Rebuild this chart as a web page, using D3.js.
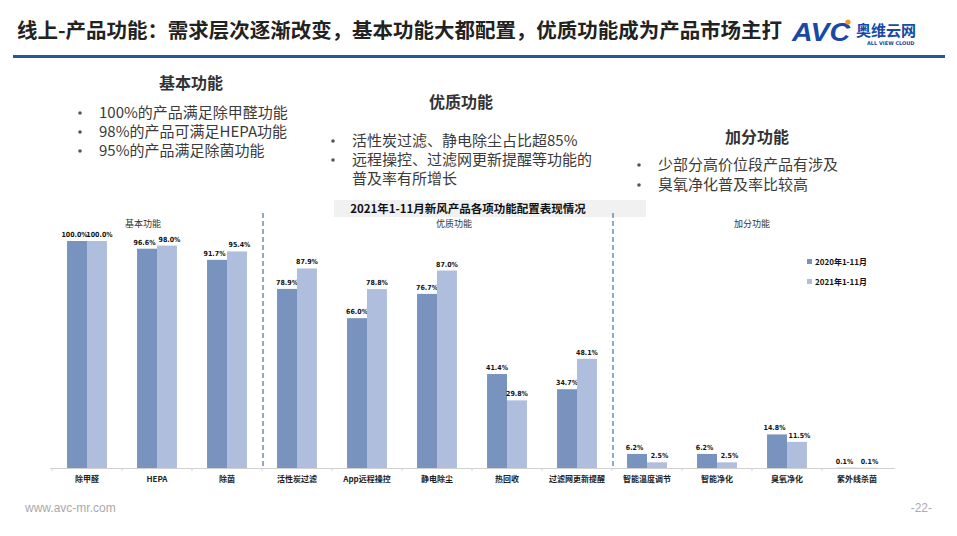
<!DOCTYPE html>
<html><head><meta charset="utf-8">
<script src="https://cdn.jsdelivr.net/npm/d3@7/dist/d3.min.js"></script>
<style>
html,body{margin:0;padding:0;background:#fff;}
svg{display:block;font-family:"Noto Sans CJK SC","Noto Sans",sans-serif;}
</style></head>
<body>
<svg id="c" width="957" height="536"></svg>
<script>
const categories = ["除甲醛","HEPA","除菌","活性炭过滤","App远程操控","静电除尘","热回收","过滤网更新提醒","智能温度调节","智能净化","臭氧净化","紫外线杀菌"];
const series2020 = [100.0, 96.6, 91.7, 78.9, 66.0, 76.7, 41.4, 34.7, 6.2, 6.2, 14.8, 0.1];
const series2021 = [100.0, 98.0, 95.4, 87.9, 78.8, 87.0, 29.8, 48.1, 2.5, 2.5, 11.5, 0.1];
const seriesNames = ["2020年1-11月","2021年1-11月"];
const groupNames = ["基本功能","优质功能","加分功能"];
const groupStarts = [0, 3, 8];
const groupEnds = [2, 7, 11];
const chartTitle = "2021年1-11月新风产品各项功能配置表现情况";
const pageTitle = "线上-产品功能：需求层次逐渐改变，基本功能大都配置，优质功能成为产品市场主打";
const blockTitles = ["基本功能","优质功能","加分功能"];
const block1 = ["100%的产品满足除甲醛功能","98%的产品可满足HEPA功能","95%的产品满足除菌功能"];
const block2 = [["活性炭过滤、静电除尘占比超85%"],["远程操控、过滤网更新提醒等功能的","普及率有所增长"]];
const block3 = ["少部分高价位段产品有涉及","臭氧净化普及率比较高"];

const svg = d3.select("#c");
const c2020 = "#7893be", c2021 = "#afbedd";

// header
svg.append("text").attr("x",17).attr("y",38).attr("font-size",20).attr("font-weight",700)
  .attr("fill","#222").attr("textLength",765).attr("lengthAdjust","spacingAndGlyphs").text(pageTitle);
svg.append("rect").attr("x",13).attr("y",55).attr("width",932).attr("height",3).attr("fill","#1f5a9a");
// logo
const logo = svg.append("g");
logo.append("text").attr("x",792).attr("y",41).attr("font-size",26).attr("font-weight",900)
  .attr("font-style","italic").attr("fill","#1848a8").attr("font-family","Liberation Sans, Arial, sans-serif")
  .attr("textLength",58).attr("lengthAdjust","spacingAndGlyphs").text("AVC");
logo.append("circle").attr("cx",848).attr("cy",22).attr("r",2.6).attr("fill","#f39a1e");
logo.append("text").attr("x",856).attr("y",36).attr("font-size",15).attr("font-weight",700).attr("fill","#1848a8").text("奥维云网");
logo.append("text").attr("x",867).attr("y",44.5).attr("font-size",5).attr("font-weight",700).attr("fill","#1848a8")
  .attr("font-family","DejaVu Sans, sans-serif").text("ALL VIEW CLOUD");

// text blocks
const txtCol = "#3b3b3b";
function title(x,y,t){svg.append("text").attr("x",x).attr("y",y).attr("text-anchor","middle").attr("font-size",16).attr("font-weight",700).attr("fill","#333").text(t);}
function bullet(bx,tx,y,t,showDot){
  if(showDot) svg.append("circle").attr("cx",bx).attr("cy",y-5).attr("r",1.8).attr("fill","#555");
  svg.append("text").attr("x",tx).attr("y",y).attr("font-size",15).attr("fill",txtCol).text(t);
}
title(191,89,blockTitles[0]);
block1.forEach((t,i)=>bullet(80,99,118+i*19,t,true));
title(461,108,blockTitles[1]);
let yy=146;
block2.forEach(lines=>{lines.forEach((t,j)=>{bullet(333,352,yy,t,j===0);yy+=19;});});
title(757,143,blockTitles[2]);
block3.forEach((t,i)=>bullet(639,658,170+i*20,t,true));

// chart
const y0 = 468, yTop = 241;
const x = d3.scaleBand().domain(categories).range([52,892]).paddingInner(0.43).paddingOuter(0.215);
const xs = d3.scaleBand().domain(seriesNames).range([0,x.bandwidth()]);
const y = d3.scaleLinear().domain([0,100]).range([y0,yTop]);

// title bg + title
svg.append("rect").attr("x",334).attr("y",200).attr("width",312).attr("height",17).attr("fill","#f1f1f1");
svg.append("text").attr("x",468).attr("y",212.5).attr("text-anchor","middle").attr("font-size",11.5)
  .attr("font-weight",700).attr("fill","#111").text(chartTitle);

// group labels
const groupOff = [-14, 17, 0];
groupNames.forEach((g,i)=>{
  const cx = (x(categories[groupStarts[i]]) + x(categories[groupEnds[i]]) + x.bandwidth())/2;
  svg.append("text").attr("x",cx+groupOff[i]).attr("y",227).attr("text-anchor","middle").attr("font-size",9).attr("fill","#333").text(g);
});

// dashed separators
[3,8].forEach(i=>{
  const sx = x(categories[i]) - x.step()*x.paddingInner()/2 + 1;
  svg.append("line").attr("x1",sx).attr("x2",sx).attr("y1",213).attr("y2",y0)
    .attr("stroke","#4f7db8").attr("stroke-width",1.3).attr("stroke-dasharray","5,3");
});

// axis
const axis = d3.axisBottom(x).tickSize(0).tickPadding(8);
const ag = svg.append("g").attr("transform",`translate(0,${y0})`).call(axis);
ag.select(".domain").attr("stroke","#d0d0d0").attr("d","M50,0.5H895");
ag.selectAll("text").attr("font-size",8).attr("font-weight",700).attr("fill","#222")
  .attr("font-family","Noto Sans CJK SC, sans-serif");
categories.forEach((c,i)=>{
  const bx = x(c) - x.step()*x.paddingInner()/2;
  ag.append("line").attr("x1",bx).attr("x2",bx).attr("y1",0).attr("y2",3).attr("stroke","#d0d0d0");
});

// bars
const data = categories.map((c,i)=>({c, v:[series2020[i],series2021[i]]}));
const g = svg.append("g");
data.forEach(d=>{
  d.v.forEach((v,j)=>{
    const bx = x(d.c)+xs(seriesNames[j]);
    g.append("rect").attr("x",bx).attr("y",y(v)).attr("width",xs.bandwidth()).attr("height",y0-y(v))
      .attr("fill", j===0?c2020:c2021);
    const close = Math.abs(d.v[0]-d.v[1]) < 4;
    const shift = close ? (j===0 ? -2.5 : 2.5) : 0;
    g.append("text").attr("x",bx+xs.bandwidth()/2+shift).attr("y",y(v)-4).attr("text-anchor","middle")
      .attr("font-size",7).attr("font-weight",700).attr("fill","#111")
      .attr("font-family","DejaVu Sans Condensed, Liberation Sans Narrow, sans-serif").text(v.toFixed(1)+"%");
  });
});

// legend
seriesNames.forEach((s,i)=>{
  svg.append("rect").attr("x",807).attr("y",259+i*20).attr("width",5).attr("height",5).attr("fill",i===0?c2020:c2021);
  svg.append("text").attr("x",815).attr("y",265+i*20).attr("font-size",8).attr("font-weight",700).attr("fill","#111").text(s);
});

// footer
svg.append("text").attr("x",25).attr("y",512).attr("font-size",12).attr("fill","#aaa").attr("font-family","Liberation Sans Narrow, Liberation Sans, sans-serif").text("www.avc-mr.com");
svg.append("text").attr("x",932).attr("y",512).attr("text-anchor","end").attr("font-size",12).attr("fill","#aaa").attr("font-family","Liberation Sans Narrow, Liberation Sans, sans-serif").text("-22-");
</script>
</body></html>
